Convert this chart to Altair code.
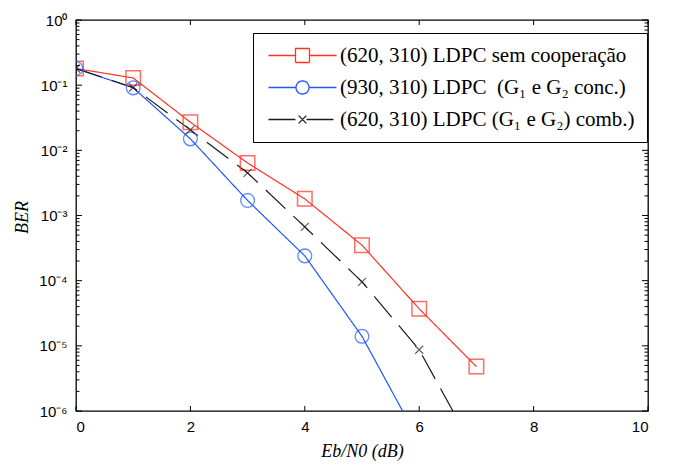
import altair as alt
import pandas as pd

# ---- data ----
series_names = [
    "(620, 310) LDPC sem cooperação",
    "(930, 310) LDPC\u00a0 (G₁ e G₂ conc.)",
    "(620, 310) LDPC (G₁ e G₂) comb.)",
]
x_red = [0, 1, 2, 3, 4, 5, 6, 7]
ber_red = [0.18, 0.129, 0.027, 0.0064, 0.0018, 3.5e-4, 3.7e-5, 4.8e-6]
x_blue = [0, 1, 2, 3, 4, 5, 6]
ber_blue = [0.18, 0.091, 0.015, 0.0017, 2.4e-4, 1.4e-5, 3.4e-7]
x_black = [0, 1, 2, 3, 4, 5, 6, 7]
ber_black = [0.18, 0.092, 0.0206, 0.0045, 6.7e-4, 9.6e-5, 8.7e-6, 2.2e-7]

colors = ["#ff3322", "#2255ff", "#1a1a1a"]
x_ticks = [0, 2, 4, 6, 8, 10]
y_major = [1e-6, 1e-5, 1e-4, 1e-3, 1e-2, 1e-1, 1.0]
y_minor = [m * 10.0 ** k for k in range(-6, 0) for m in range(2, 10)]

rows = []
for name, xs, ys in zip(series_names, [x_red, x_blue, x_black], [ber_red, ber_blue, ber_black]):
    for xv, yv in zip(xs, ys):
        rows.append({"x": xv, "ber": yv, "series": name})
df = pd.DataFrame(rows)

W, H = 572, 391
xscale = alt.Scale(domain=[0, 10], nice=False)
yscale = alt.Scale(type="log", domain=[1e-6, 1])
cscale = alt.Scale(domain=series_names, range=colors)

label_expr = ("datum.value >= 0.99 ? '10⁰' : '10⁻' + "
              "['', '¹', '²', '³', '⁴', '⁵', '⁶'][round(-log(datum.value)/LN10)]")

# legend symbols: nominal size 14px (scale 7px per unit), line spans +-34px
legend_shapes = [
    "M-4.86,0H-1M1,0H4.86M-1,-1H1V1H-1Z",
    "M-4.86,0H-0.93M0.93,0H4.86M-0.93,0A0.93,0.93,0,1,0,0.93,0A0.93,0.93,0,1,0,-0.93,0",
    "M-4.86,0H4.86M-0.55,-0.55L0.55,0.55M-0.55,0.55L0.55,-0.55",
]
leg = alt.Legend(title=None, orient="none", legendX=177, legendY=13, padding=12,
                 strokeColor="black", fillColor="white", labelFont="Liberation Serif",
                 labelFontSize=21, labelColor="black", symbolOpacity=1, symbolSize=196,
                 symbolStrokeWidth=1.3, symbolOffset=27, labelOffset=27, rowPadding=10,
                 labelLimit=0)

# legend carrier layer (first, so its explicit legend wins the merge)
legend_layer = alt.Chart(df).mark_point(opacity=0, filled=False, size=196).encode(
    x=alt.X("x:Q", scale=xscale),
    y=alt.Y("ber:Q", scale=yscale),
    color=alt.Color("series:N", scale=cscale, legend=leg),
    shape=alt.Shape("series:N", scale=alt.Scale(domain=series_names, range=legend_shapes), legend=leg),
)

lines = alt.Chart(df).mark_line(clip=True, strokeWidth=1.2).encode(
    x=alt.X("x:Q", scale=xscale,
            axis=alt.Axis(orient="bottom", values=x_ticks, format="d", ticks=False, domain=False,
                          grid=False, labelPadding=8, title="Eb/N0 (dB)",
                          titleFont="Liberation Serif", titleFontStyle="italic",
                          titleFontWeight="normal", titleFontSize=18,
                          titleY=40, titleBaseline="middle")),
    y=alt.Y("ber:Q", scale=yscale,
            axis=alt.Axis(orient="left", values=y_major, ticks=False, domain=False, grid=False,
                          labelPadding=9, labelExpr=label_expr, title="BER",
                          titleFont="Liberation Serif", titleFontStyle="italic",
                          titleFontWeight="normal", titleFontSize=18, titleX=-54, titleY=197,
                          titleBaseline="middle")),
    color=alt.Color("series:N", scale=cscale, legend=None),
    strokeDash=alt.StrokeDash("series:N", scale=alt.Scale(domain=series_names,
                              range=[[1, 0], [1, 0], [27, 11]]), legend=None),
)

def pts(idx, shape, size, sw):
    return alt.Chart(df).transform_filter(alt.datum.series == series_names[idx]).mark_point(
        shape=shape, size=size, filled=False, strokeWidth=sw, clip=True
    ).encode(
        x=alt.X("x:Q", scale=xscale),
        y=alt.Y("ber:Q", scale=yscale),
        color=alt.Color("series:N", scale=cscale, legend=None),
    )

red_pts = pts(0, "square", 210, 1.5)
blue_pts = pts(1, "circle", 190, 1.3)
black_pts = pts(2, "M-1,-1L1,1M-1,1L1,-1", 64, 1.2)

# inward tick marks on all four sides (MATLAB box style)
xt = pd.DataFrame({"v": x_ticks})
ymaj = pd.DataFrame({"v": y_major})
ymin = pd.DataFrame({"v": y_minor})
tick_layers = []
for y0, y1 in [(H, H - 5), (0, 5)]:
    tick_layers.append(alt.Chart(xt).mark_rule(color="black", strokeWidth=1).encode(
        x=alt.X("v:Q", scale=xscale), y=alt.value(y0), y2=alt.value(y1)))
for data, ln in [(ymaj, 6), (ymin, 3.5)]:
    for x0, x1 in [(0, ln), (W, W - ln)]:
        tick_layers.append(alt.Chart(data).mark_rule(color="black", strokeWidth=1).encode(
            y=alt.Y("v:Q", scale=yscale), x=alt.value(x0), x2=alt.value(x1)))

chart = alt.layer(legend_layer, lines, red_pts, blue_pts, black_pts, *tick_layers).properties(
    width=W, height=H,
    autosize=alt.AutoSizeParams(type="none"),
    padding={"left": 68, "top": 12, "right": 10, "bottom": 60},
).configure_view(stroke="black", strokeWidth=1.3).configure_axis(
    labelFont="Liberation Sans", labelFontSize=15, labelColor="black", tickColor="black",
    titleColor="black",
)

chart.save("out.html", embed_options={"renderer": "svg", "actions": False})
